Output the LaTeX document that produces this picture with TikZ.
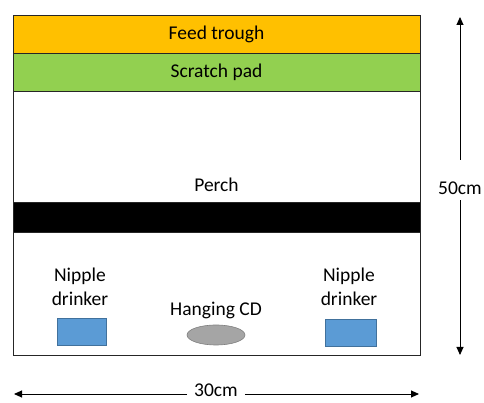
\documentclass[tikz,border=0pt]{standalone}
\usepackage{fontspec}
\setmainfont{Carlito}
\usepackage{tikz}
\usepackage{xcolor}
\usetikzlibrary{arrows.meta, shapes.geometric, positioning}

\definecolor{troughcol}{HTML}{FFC000}
\definecolor{padcol}{HTML}{92D050}
\definecolor{drinkcol}{HTML}{5B9BD5}
\definecolor{drinkline}{HTML}{41719C}
\definecolor{cdcol}{HTML}{A5A5A5}
\definecolor{cdline}{HTML}{7F7F7F}

\tikzset{
    band/.style={draw=black!85, line width=0.8pt, minimum width=407pt, minimum height=38pt, inner sep=0pt},
    drinker/.style={draw=drinkline, fill=drinkcol, line width=0.6pt, minimum width=49pt, minimum height=27pt, inner sep=0pt},
    label/.style={font=\fontsize{19.5}{24}\selectfont, align=center, inner sep=2pt},
    dimarrow/.style={-{Triangle[length=8pt, width=7pt]}, line width=0.9pt}
}

\begin{document}
\begin{tikzpicture}[x=1pt, y=1pt]

        \useasboundingbox (0, 0) rectangle (484, 403);

        \def\leftx{13}
        \def\rightx{420}
        \def\midx{216.5}

        % pen outline
        \draw[draw=black!85, line width=0.8pt] (\leftx, 48) rectangle (\rightx, 388);

        \node[band, fill=troughcol] (trough) at (\midx, 369) {};
        \node[label] at (trough) {Feed trough};
        \node[band, fill=padcol] (pad) at (\midx, 331) {};
        \node[label] at (pad) {Scratch pad};

        \node[band, fill=black, minimum height=30pt] (perch) at (\midx, 186) {};
        \node[label] (perchlbl) at (\midx, 218) {Perch};

        % drinkers and CD
        \node[drinker] (drinkl) at (81.5, 71.5) {};
        \node[drinker, minimum width=51pt] (drinkr) at (350.5, 70.5) {};
        \node[label] (drinkllbl) at (80, 116) {Nipple\\drinker};
        \node[label] (drinkrlbl) at (349, 116) {Nipple\\drinker};
        \node[ellipse, draw=cdline, fill=cdcol, line width=0.6pt, minimum width=58pt, minimum height=20pt, inner sep=0pt] (cd) at (216, 68) {};
        \node[label] (cdlbl) at (216, 93) {Hanging CD};

        % dimensions
        \node[label, outer sep=4pt] (len50) at (460, 215) {50cm};
        \coordinate (lentop) at (460, 386);
        \coordinate (lenbot) at (460, 48);
        \draw[dimarrow] (len50.north) ++(0, 16) -- (lentop);
        \draw[dimarrow] (len50.south) -- (lenbot);

        \node[label, inner sep=1pt, outer sep=6pt] (len30) at (216, 13) {30cm};
        \coordinate (lenleft) at (14, 9);
        \coordinate (lenright) at (419, 9);
        \draw[dimarrow] (len30.west |- lenleft) -- (lenleft);
        \draw[dimarrow] (len30.east |- lenright) -- (lenright);

    \end{tikzpicture}
\end{document}
